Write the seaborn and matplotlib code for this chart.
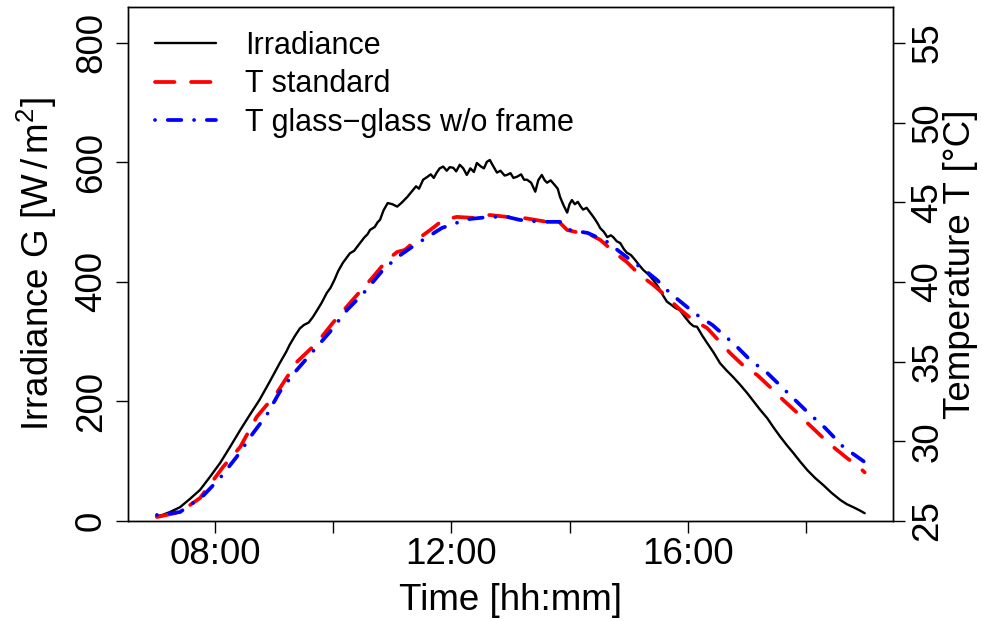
import numpy as np
import pandas as pd
import matplotlib
matplotlib.use("Agg")
import matplotlib.pyplot as plt
import seaborn as sns

# ---------------- data ----------------
time_irr = [7.00, 7.10, 7.23, 7.40, 7.57, 7.74, 7.91, 8.08, 8.25, 8.42, 8.58, 8.75, 8.92,
            9.09, 9.20, 9.26, 9.35, 9.43, 9.50, 9.58, 9.65, 9.72, 9.80, 9.89, 9.95, 10.02,
            10.08, 10.16, 10.22, 10.28, 10.35, 10.45, 10.52, 10.58, 10.62, 10.70, 10.75,
            10.79, 10.85, 10.92, 11.00, 11.08, 11.15, 11.25, 11.30, 11.35, 11.40, 11.45,
            11.52, 11.58, 11.65, 11.70, 11.75, 11.80, 11.86, 11.92, 11.97, 12.03, 12.08,
            12.14, 12.20, 12.26, 12.32, 12.38, 12.43, 12.50, 12.55, 12.60, 12.65, 12.70,
            12.77, 12.83, 12.90, 12.94, 13.00, 13.05, 13.11, 13.18, 13.23, 13.28, 13.35,
            13.42, 13.47, 13.53, 13.58, 13.62, 13.68, 13.75, 13.80, 13.84, 13.90, 13.96,
            14.00, 14.04, 14.09, 14.14, 14.19, 14.23, 14.29, 14.35, 14.41, 14.47, 14.52,
            14.58, 14.64, 14.70, 14.74, 14.80, 14.86, 14.92, 14.97, 15.04, 15.11, 15.18,
            15.25, 15.33, 15.42, 15.50, 15.58, 15.65, 15.72, 15.80, 15.87, 15.95, 16.04,
            16.10, 16.16, 16.25, 16.33, 16.44, 16.55, 16.66, 16.77, 16.89, 17.01, 17.12,
            17.23, 17.35, 17.46, 17.57, 17.68, 17.79, 17.91, 18.03, 18.16, 18.30, 18.44,
            18.59, 18.70, 18.81, 18.93, 19.00]
irradiance = [8, 10, 15, 23, 37, 52, 74, 97, 124, 152, 177, 203, 233,
              264, 283, 295, 310, 322, 328, 332, 341, 352, 365, 382, 390, 404,
              418, 432, 440, 448, 452, 465, 474, 480, 487, 492, 500,
              504, 520, 532, 530, 526, 532, 542, 548, 554, 560, 556,
              571, 575, 580, 574, 583, 590, 593, 586, 592, 591, 585,
              596, 590, 579, 590, 584, 599, 593, 590, 601, 604, 595,
              583, 586, 578, 579, 582, 574, 576, 580, 571, 571, 566,
              551, 570, 579, 570, 566, 570, 562, 556, 542, 528, 516,
              530, 537, 530, 534, 526, 521, 524, 516, 508, 499, 490,
              484, 475, 478, 475, 468, 465, 455, 449, 445, 437, 428,
              420, 413, 403, 392, 378, 367, 362, 356, 353, 342, 331,
              326, 325, 310, 298, 282, 264, 252, 241, 228, 214, 200,
              186, 172, 156, 141, 127, 114, 99, 85, 72, 60, 47,
              35, 28, 23, 17, 13]

time_std = [7.01, 7.40, 7.74, 8.13, 8.42, 8.70, 9.04, 9.38, 9.72, 9.99, 10.28, 10.67,
            10.91, 11.08, 11.21, 11.41, 11.64, 11.86, 12.09, 12.36, 12.65, 12.94, 13.21,
            13.62, 13.79, 13.96, 14.18, 14.30, 14.52, 14.77, 14.97, 15.19, 15.42, 15.65,
            15.84, 16.09, 16.33, 16.55, 16.72, 16.97, 17.18, 17.45, 17.62, 17.86, 18.03,
            18.28, 18.47, 18.70, 18.92, 19.00]
temp_std = [25.25, 25.56, 26.44, 28.39, 29.64, 31.53, 33.03, 34.98, 36.17, 37.43, 38.68,
            40.31, 41.38, 41.88, 42.01, 42.64, 43.26, 43.89, 44.08, 44.02, 44.20, 44.08,
            44.02, 43.77, 43.89, 43.26, 43.07, 43.07, 42.64, 41.82, 41.25, 40.44, 39.81,
            39.06, 38.37, 37.61, 37.11, 36.23, 35.54, 34.66, 34.16, 33.22, 32.59, 31.78,
            31.15, 30.27, 29.64, 28.95, 28.33, 28.05]

time_gg = [7.01, 7.40, 7.79, 8.08, 8.36, 8.64, 8.87, 9.09, 9.35, 9.57, 9.94, 10.23, 10.50,
           10.84, 11.09, 11.38, 11.84, 12.14, 12.31, 12.65, 12.94, 13.16, 13.50, 13.84,
           14.01, 14.31, 14.64, 14.81, 15.03, 15.31, 15.48, 15.70, 15.99, 16.16, 16.42,
           16.67, 16.84, 17.06, 17.35, 17.70, 18.03, 18.33, 18.64, 19.00]
temp_gg = [25.38, 25.56, 26.57, 27.70, 29.02, 30.52, 31.65, 33.10, 34.35, 35.29, 36.86,
           38.24, 39.25, 40.75, 41.57, 42.32, 43.39, 43.77, 43.95, 44.08, 44.08, 43.89,
           43.77, 43.77, 43.26, 43.07, 42.51, 42.01, 41.38, 40.63, 40.13, 39.31, 38.43,
           37.93, 37.30, 36.49, 35.92, 35.10, 34.29, 33.03, 31.84, 30.84, 29.64, 28.70]

x_ticks = [8, 10, 12, 14, 16, 18]
x_tick_labels = ["08:00", "", "12:00", "", "16:00", ""]
g_ticks = [0, 200, 400, 600, 800]
t_ticks = [25, 30, 35, 40, 45, 50, 55]
series_labels = ["Irradiance", "T standard", "T glass\u2212glass w/o frame"]

df_irr = pd.DataFrame({"time": time_irr, "G": irradiance})
df_std = pd.DataFrame({"time": time_std, "T": temp_std})
df_gg = pd.DataFrame({"time": time_gg, "T": temp_gg})

# ---------------- style ----------------
sns.set_theme(style="ticks")
plt.rcParams["font.family"] = ["Liberation Sans", "DejaVu Sans"]
plt.rcParams["mathtext.fontset"] = "custom"
plt.rcParams["mathtext.rm"] = "Liberation Sans"
plt.rcParams["mathtext.it"] = "Liberation Sans:italic"
plt.rcParams["mathtext.bf"] = "Liberation Sans:bold"
plt.rcParams["text.color"] = "black"
plt.rcParams["axes.labelcolor"] = "black"
plt.rcParams["xtick.color"] = "black"
plt.rcParams["ytick.color"] = "black"

W, H = 982, 621
fig = plt.figure(figsize=(W / 100, H / 100), dpi=100)
L, R, B, T = 128, 893, 521, 7
ax = fig.add_axes([L / W, 1 - B / H, (R - L) / W, (B - T) / H])
ax2 = ax.twinx()

sns.lineplot(data=df_irr, x="time", y="G", ax=ax, color="black", lw=1.7,
             estimator=None, sort=False, legend=False)
sns.lineplot(data=df_std, x="time", y="T", ax=ax2, color="#ff0000", lw=2.7,
             estimator=None, sort=False, legend=False,
             linestyle=(0, (5.2, 4.4)), dash_capstyle="round")
sns.lineplot(data=df_gg, x="time", y="T", ax=ax2, color="#0000ff", lw=2.7,
             estimator=None, sort=False, legend=False,
             linestyle=(0, (0.01, 3.4, 3.6, 3.4)), dash_capstyle="round")

ax.set_xlim(6.52, 19.48)
ax.set_ylim(0, 860)
ax2.set_ylim(25, 25 + 860 / 800 * 30)

fs = 26.5
ax.set_xticks(x_ticks)
ax.set_xticklabels(x_tick_labels)
ax.set_yticks(g_ticks)
ax.set_yticklabels([str(v) for v in g_ticks], rotation=90, va="center")
ax2.set_yticks(t_ticks)
ax2.set_yticklabels([str(v) for v in t_ticks], rotation=90, va="center")

ax.tick_params(axis="both", direction="out", length=8.6, width=1.0, color="black",
               labelsize=fs, labelcolor="black")
ax.tick_params(axis="x", pad=3)
ax.tick_params(axis="y", pad=5)
ax2.tick_params(axis="y", direction="out", length=8.6, width=1.0, color="black",
                labelsize=fs, labelcolor="black", pad=4)

ax.set_xlabel("Time [hh:mm]", fontsize=fs, labelpad=8, color="black")
ax.set_ylabel(r"Irradiance G [W$\,$/$\,$m$^{2}$]", fontsize=fs, labelpad=11,
              color="black")
ax2.set_ylabel("Temperature T [\u00b0C]", fontsize=fs, labelpad=-2, rotation=90,
               va="top", color="black")

for a in (ax, ax2):
    for s in a.spines.values():
        s.set_color("black")
        s.set_linewidth(1.0)
        s.set_visible(True)

handles = [ax.lines[0], ax2.lines[0], ax2.lines[1]]
leg = ax.legend(handles, series_labels, loc="upper left",
                bbox_to_anchor=((155 - L) / (R - L), (B - 31) / (B - T)),
                frameon=False, fontsize=22, handlelength=2.0, handletextpad=0.95,
                labelspacing=0.27, borderpad=0, borderaxespad=0)
for txt in leg.get_texts():
    txt.set_color("black")
ax2.set_zorder(ax.get_zorder() + 1)
ax2.patch.set_visible(False)
ax.get_legend().remove()
ax2.add_artist(leg)

fig.savefig("out.png", dpi=100)
